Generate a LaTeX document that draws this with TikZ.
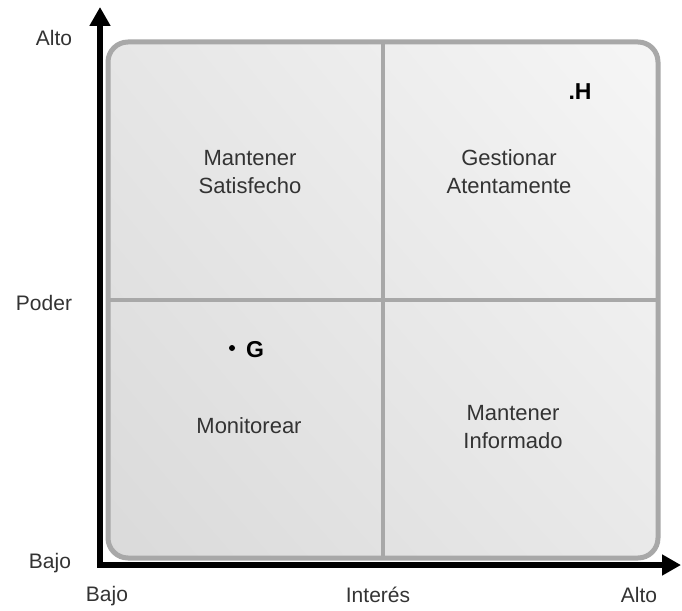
\documentclass[tikz,border=0pt]{standalone}
\usepackage{fontspec}
\setmainfont{Liberation Sans}
\usetikzlibrary{arrows.meta,shadings}
\definecolor{frame}{HTML}{A8A8A8}
\definecolor{txt}{HTML}{333333}
\definecolor{bgLL}{HTML}{DADADA}
\definecolor{bgUL}{HTML}{E6E6E6}
\definecolor{bgLR}{HTML}{E9E9E9}
\definecolor{bgUR}{HTML}{F6F6F6}
\tikzset{
  axis/.style={line width=6.5pt, line join=miter, -{Triangle[length=19pt,width=20pt]}},
  quadtext/.style={text=txt, font=\fontsize{22}{28}\selectfont, align=center, anchor=base, inner sep=0pt},
  axislabel/.style={text=txt, font=\fontsize{21}{25}\selectfont, anchor=base, inner sep=0pt},
  marker/.style={text=black, font=\fontsize{23}{26}\selectfont\bfseries, anchor=base, inner sep=0pt},
  divider/.style={draw=frame, line width=4pt}
}
\begin{document}
\begin{tikzpicture}[x=1pt,y=-1pt]
  \useasboundingbox (0,0) rectangle (682,610);
  % board
  \shade[rounded corners=20pt, lower left=bgLL, upper left=bgUL,
    lower right=bgLR, upper right=bgUR]
    (108,42) rectangle (658,558);
  \draw[frame, line width=5pt, rounded corners=20pt] (108,42) rectangle (658,558);
  \coordinate (top) at (383,42);
  \coordinate (bottom) at (383,558);
  \coordinate (left) at (108,300);
  \coordinate (right) at (658,300);
  \draw[divider] (top) -- (bottom);
  \draw[divider] (left) -- (right);
  % axes
  \coordinate (yend) at (100,7);
  \coordinate (origin) at (100,565);
  \coordinate (xend) at (681,565);
  \draw[axis] (origin) -- (yend);
  \draw[axis] (origin) -- (xend);
  \fill (96.75,561.75) rectangle (103.25,568.25);
  % axis labels
  \node[axislabel] (yalto) at (54,46) {Alto};
  \node[axislabel] (ypoder) at (44,310) {Poder};
  \node[axislabel] (ybajo) at (50,568) {Bajo};
  \node[axislabel] (xbajo) at (107,601) {Bajo};
  \node[axislabel] (xint) at (378,602) {Interés};
  \node[axislabel] (xalto) at (639,602) {Alto};
  % quadrants (base = baseline of the last line)
  \node[quadtext] (q1) at (250,193) {Mantener\\Satisfecho};
  \node[quadtext] (q2) at (509,193) {Gestionar\\Atentamente};
  \node[quadtext] (q3) at (249,433) {Monitorear};
  \node[quadtext] (q4) at (513,448) {Mantener\\Informado};
  % stakeholders
  \node[marker] (h) at (580,99) {.H};
  \fill (232,348) circle (3pt);
  \node[marker] (g) at (255,357) {G};
\end{tikzpicture}
\end{document}
